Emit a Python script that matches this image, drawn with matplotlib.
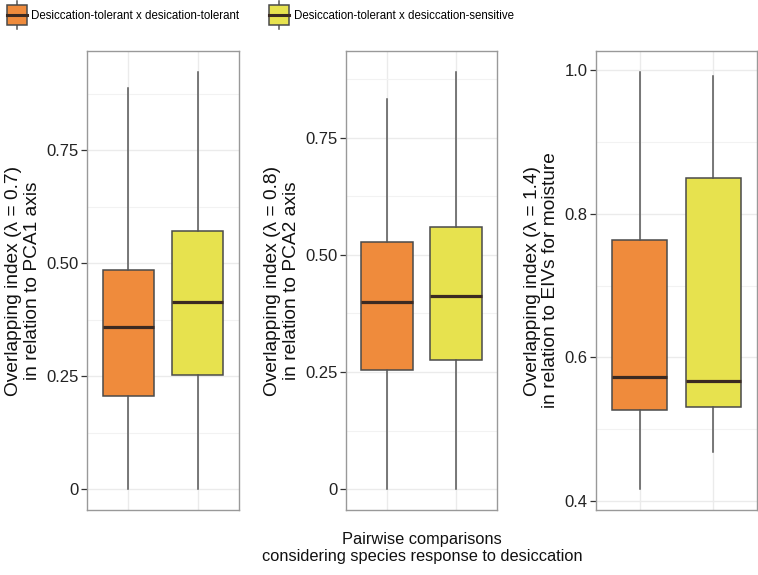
import matplotlib
matplotlib.use("Agg")
import matplotlib.pyplot as plt
from matplotlib.legend_handler import HandlerBase
from matplotlib.patches import Rectangle, Patch
from matplotlib.lines import Line2D

plt.rcParams["font.family"] = ["Liberation Sans", "DejaVu Sans"]

# group names (legend)
groups = ["Desiccation-tolerant x desication-tolerant",
          "Desiccation-tolerant x desiccation-sensitive"]
colors = ["#EF8B3C", "#E7E24E"]

# box statistics: [tolerant x tolerant, tolerant x sensitive]
pca1_whislo = [0.0, 0.0]
pca1_q1 = [0.206, 0.253]
pca1_med = [0.359, 0.414]
pca1_q3 = [0.484, 0.570]
pca1_whishi = [0.888, 0.923]

pca2_whislo = [0.0, 0.0]
pca2_q1 = [0.255, 0.276]
pca2_med = [0.400, 0.413]
pca2_q3 = [0.528, 0.559]
pca2_whishi = [0.832, 0.890]

eiv_whislo = [0.417, 0.468]
eiv_q1 = [0.527, 0.531]
eiv_med = [0.573, 0.567]
eiv_q3 = [0.763, 0.849]
eiv_whishi = [0.997, 0.991]

ylabels = ["Overlapping index (\u03bb = 0.7)\nin relation to PCA1 axis",
           "Overlapping index (\u03bb = 0.8)\nin relation to PCA2 axis",
           "Overlapping index (\u03bb = 1.4)\nin relation to EIVs for moisture"]
yticks = [[0, 0.25, 0.5, 0.75], [0, 0.25, 0.5, 0.75], [0.4, 0.6, 0.8, 1.0]]
yticklabels = [["0", "0.25", "0.50", "0.75"], ["0", "0.25", "0.50", "0.75"],
               ["0.4", "0.6", "0.8", "1.0"]]
xlabel = "Pairwise comparisons\nconsidering species response to desiccation"

panels = [
    (pca1_whislo, pca1_q1, pca1_med, pca1_q3, pca1_whishi),
    (pca2_whislo, pca2_q1, pca2_med, pca2_q3, pca2_whishi),
    (eiv_whislo, eiv_q1, eiv_med, eiv_q3, eiv_whishi),
]

W, H = 758, 575
fig = plt.figure(figsize=(W / 100, H / 100), dpi=100)

# axes boxes in pixels: left, right (top/bottom shared)
boxes_px = [(87, 239), (346, 497), (596, 757)]
top_px, bot_px = 51, 510

edge = "#4a4a4a"
for i, (lo, q1, med, q3, hi) in enumerate(panels):
    l, r = boxes_px[i]
    ax = fig.add_axes([l / W, (H - bot_px) / H, (r - l) / W, (bot_px - top_px) / H])
    stats = []
    for k in range(2):
        stats.append(dict(whislo=lo[k], q1=q1[k], med=med[k], q3=q3[k],
                          whishi=hi[k], fliers=[]))
    bp = ax.bxp(stats, positions=[1, 2], widths=0.75, patch_artist=True,
                showcaps=False, showfliers=False,
                boxprops=dict(edgecolor=edge, linewidth=1.1),
                whiskerprops=dict(color="#555555", linewidth=1.1),
                medianprops=dict(color="#3b2a22", linewidth=2.3,
                                 solid_capstyle="butt"))
    for patch, c in zip(bp["boxes"], colors):
        patch.set_facecolor(c)

    ax.set_yticks(yticks[i])
    ax.set_yticklabels(yticklabels[i], fontsize=12, color="#222222")
    step = yticks[i][1] - yticks[i][0]
    minors = [t + step / 2 for t in [yticks[i][0] - step] + yticks[i]]
    ax.set_yticks(minors, minor=True)
    ax.set_xticks([1, 2])
    ax.set_xticklabels([])

    # ggplot-like range expansion (after ticks so limits are not widened)
    dmin, dmax = min(lo), max(hi)
    pad = 0.05 * (dmax - dmin)
    ax.set_ylim(dmin - pad, dmax + pad)
    ax.set_xlim(0.4, 2.6)

    ax.tick_params(axis="y", which="major", length=4, width=0.9,
                   color="#333333", pad=2)
    ax.tick_params(axis="y", which="minor", length=0)
    ax.tick_params(axis="x", length=0)
    ax.grid(True, which="major", color="#ebebeb", linewidth=1.0)
    ax.grid(True, which="minor", axis="y", color="#f2f2f2", linewidth=0.8)
    ax.set_axisbelow(True)
    for s in ax.spines.values():
        s.set_color("#999999")
        s.set_linewidth(1.0)
    ax.set_ylabel(ylabels[i], fontsize=13.8, color="#111111", labelpad=4,
                  linespacing=1.1)

fig.text(0.5 * (87 + 757) / W, 1 - 548 / H, xlabel, ha="center", va="center",
         fontsize=11.8, color="#111111", linespacing=1.15)


class BoxKey(HandlerBase):
    def create_artists(self, legend, orig_handle, xdescent, ydescent,
                       width, height, fontsize, trans):
        x0, y0 = -xdescent, -ydescent
        cx = x0 + width / 2
        whisk = Line2D([cx, cx], [y0 - 0.22 * height, y0 + 1.22 * height],
                       color="#555555", linewidth=1.1, transform=trans)
        rect = Rectangle((x0, y0), width, height,
                         facecolor=orig_handle.get_facecolor(),
                         edgecolor=edge, linewidth=1.1, transform=trans)
        medl = Line2D([x0, x0 + width], [y0 + 0.5 * height] * 2,
                      color="#3b2a22", linewidth=2.2, transform=trans)
        return [whisk, rect, medl]


handles = [Patch(facecolor=c) for c in colors]
fig.legend(handles, groups, handler_map={Patch: BoxKey()}, ncol=2,
           loc="center left", bbox_to_anchor=(7 / W, 1 - 15 / H), frameon=False,
           prop={"size": 8.3},
           handlelength=1.75, handleheight=2.3, handletextpad=0.35,
           columnspacing=2.6, borderpad=0, borderaxespad=0)

fig.savefig("out.png", dpi=100)
